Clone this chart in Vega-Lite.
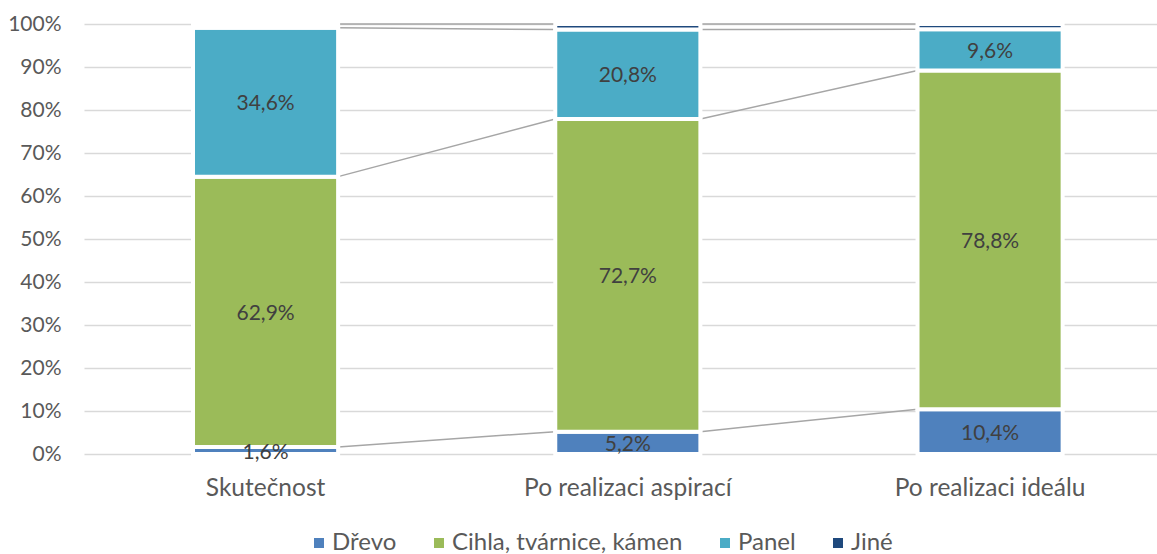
{
  "$schema": "https://vega.github.io/schema/vega-lite/v6.json",
  "autosize": {"type": "none"},
  "padding": {"left": 84, "top": 24, "right": 0, "bottom": 100},
  "width": 1073,
  "height": 430,
  "background": "white",
  "config": {
    "view": {"stroke": null},
    "font": "Lato",
    "axis": {"labelFont": "Lato", "labelColor": "#595959", "labelFontSize": 21, "titleFontSize": 0}
  },
  "datasets": {
    "bars": [
      {"kat": "Skutečnost", "typ": "Dřevo", "ord": 1, "hodnota": 1.6, "label": "1,6%"},
      {"kat": "Skutečnost", "typ": "Cihla, tvárnice, kámen", "ord": 2, "hodnota": 62.9, "label": "62,9%"},
      {"kat": "Skutečnost", "typ": "Panel", "ord": 3, "hodnota": 34.6, "label": "34,6%"},
      {"kat": "Skutečnost", "typ": "Jiné", "ord": 4, "hodnota": 0.9, "label": ""},
      {"kat": "Po realizaci aspirací", "typ": "Dřevo", "ord": 1, "hodnota": 5.2, "label": "5,2%"},
      {"kat": "Po realizaci aspirací", "typ": "Cihla, tvárnice, kámen", "ord": 2, "hodnota": 72.7, "label": "72,7%"},
      {"kat": "Po realizaci aspirací", "typ": "Panel", "ord": 3, "hodnota": 20.8, "label": "20,8%"},
      {"kat": "Po realizaci aspirací", "typ": "Jiné", "ord": 4, "hodnota": 1.3, "label": ""},
      {"kat": "Po realizaci ideálu", "typ": "Dřevo", "ord": 1, "hodnota": 10.4, "label": "10,4%"},
      {"kat": "Po realizaci ideálu", "typ": "Cihla, tvárnice, kámen", "ord": 2, "hodnota": 78.8, "label": "78,8%"},
      {"kat": "Po realizaci ideálu", "typ": "Panel", "ord": 3, "hodnota": 9.6, "label": "9,6%"},
      {"kat": "Po realizaci ideálu", "typ": "Jiné", "ord": 4, "hodnota": 1.2, "label": ""}
    ],
    "lines": [
      {"od": "Skutečnost", "do": "Po realizaci aspirací", "y1": 1.6, "y2": 5.2},
      {"od": "Skutečnost", "do": "Po realizaci aspirací", "y1": 64.5, "y2": 77.9},
      {"od": "Skutečnost", "do": "Po realizaci aspirací", "y1": 99.1, "y2": 98.7},
      {"od": "Skutečnost", "do": "Po realizaci aspirací", "y1": 100, "y2": 100},
      {"od": "Po realizaci aspirací", "do": "Po realizaci ideálu", "y1": 5.2, "y2": 10.4},
      {"od": "Po realizaci aspirací", "do": "Po realizaci ideálu", "y1": 77.9, "y2": 89.2},
      {"od": "Po realizaci aspirací", "do": "Po realizaci ideálu", "y1": 98.7, "y2": 98.8},
      {"od": "Po realizaci aspirací", "do": "Po realizaci ideálu", "y1": 100, "y2": 100}
    ]
  },
  "resolve": {"scale": {"x": "shared", "y": "shared"}},
  "layer": [
    {
      "data": {"name": "lines"},
      "mark": {"type": "rule", "color": "#A6A6A6", "strokeWidth": 1.5},
      "encoding": {
        "x": {"field": "od", "type": "nominal", "bandPosition": 1},
        "x2": {"field": "do", "bandPosition": 0},
        "y": {"field": "y1", "type": "quantitative"},
        "y2": {"field": "y2"}
      }
    },
    {
      "data": {"name": "bars"},
      "mark": {"type": "bar", "stroke": "white", "strokeWidth": 4},
      "encoding": {
        "x": {
          "field": "kat", "type": "nominal", "title": null,
          "scale": {"domain": ["Skutečnost", "Po realizaci aspirací", "Po realizaci ideálu"], "paddingInner": 0.5994, "paddingOuter": 0.2807, "align": 0.536},
          "axis": {"labelAngle": 0, "domain": false, "ticks": false, "labelPadding": 34, "bandPosition": 0.5, "labelAlign": "center", "labelFontSize": 24.5, "labelLimit": 0}
        },
        "y": {
          "field": "hodnota", "type": "quantitative", "stack": "zero", "title": null,
          "scale": {"domain": [0, 100], "nice": false},
          "axis": {"values": [0, 10, 20, 30, 40, 50, 60, 70, 80, 90, 100], "labelExpr": "datum.value + '%'", "domain": false, "ticks": false, "labelPadding": 23, "gridColor": "#D9D9D9", "gridWidth": 1.5}
        },
        "color": {
          "field": "typ", "type": "nominal", "title": null,
          "scale": {"domain": ["Dřevo", "Cihla, tvárnice, kámen", "Panel", "Jiné"], "range": ["#4F81BD", "#9BBB59", "#4BACC6", "#1F497D"]},
          "legend": {
            "orient": "none", "legendX": 223, "legendY": 507, "direction": "horizontal",
            "symbolType": "square", "symbolSize": 100, "symbolStrokeWidth": 0,
            "labelFont": "Lato", "labelFontSize": 24, "labelColor": "#595959", "labelOffset": 1, "columnPadding": 30, "labelLimit": 0
          }
        },
        "order": {"field": "ord", "type": "quantitative", "sort": "ascending"}
      }
    },
    {
      "data": {"name": "bars"},
      "transform": [{"filter": "datum.label != ''"}],
      "mark": {"type": "text", "color": "#404040", "fontSize": 21, "font": "Lato", "baseline": "middle", "align": "center", "dy": 2},
      "encoding": {
        "x": {"field": "kat", "type": "nominal"},
        "y": {"field": "hodnota", "type": "quantitative", "stack": "zero", "bandPosition": 0.5},
        "order": {"field": "ord", "type": "quantitative", "sort": "ascending"},
        "text": {"field": "label"}
      }
    }
  ]
}
